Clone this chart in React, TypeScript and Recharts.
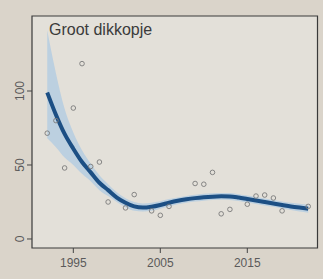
import React from "react";
import {
  ComposedChart,
  Area,
  Line,
  Scatter,
  XAxis,
  YAxis,
  ReferenceArea,
} from "recharts";

const years = [
  1992, 1993, 1994, 1995, 1996, 1997, 1998, 1999, 2000, 2001, 2002, 2003,
  2004, 2005, 2006, 2007, 2008, 2009, 2010, 2011, 2012, 2013, 2014, 2015,
  2016, 2017, 2018, 2019, 2020, 2021, 2022,
];
const fitValues = [
  99, 84, 71, 61, 52, 45, 38, 33, 28, 24.5, 22, 21.2, 21.8, 23, 24.5, 25.8,
  26.8, 27.6, 28.2, 28.6, 28.8, 28.7, 28, 27, 26, 25, 24, 23, 22, 21.2, 20.5,
];
const ciLower = [
  68, 62, 55, 50, 44, 39, 33, 29, 25, 21.5, 19, 18.5, 19, 20.5, 22, 23.5,
  24.5, 25.3, 25.9, 26.3, 26.5, 26.4, 25.7, 24.7, 23.7, 22.7, 21.7, 20.6,
  19.5, 18.6, 17.8,
];
const ciUpper = [
  141, 112, 88, 72, 60, 51, 43, 37, 31.5, 27.5, 25, 24, 24.5, 25.5, 27, 28.1,
  29.1, 29.9, 30.5, 30.9, 31.1, 31, 30.3, 29.3, 28.3, 27.3, 26.3, 25.4, 24.5,
  23.8, 23.2,
];

const obsYears = [
  1992, 1993, 1994, 1995, 1996, 1997, 1998, 1999, 2001, 2002, 2004, 2005,
  2006, 2009, 2010, 2011, 2012, 2013, 2015, 2016, 2017, 2018, 2019, 2022,
];
const obsValues = [
  71.5, 80, 48, 88.5, 118.5, 49, 52, 25, 21, 30, 19, 16, 22, 37.5, 37, 45, 17,
  20, 23.5, 29, 29.7, 27.7, 19, 22,
];

const xTicks = [1995, 2005, 2015];
const yTicks = [0, 50, 100];
const title = "Groot dikkopje";

const X_DOMAIN: [number, number] = [1990.25, 2023.07];
const Y_DOMAIN: [number, number] = [-6.1, 150.7];

const fitData = years.map((year, i) => ({
  year,
  fit: fitValues[i],
  band: [ciLower[i], ciUpper[i]],
}));
const obsData = obsYears.map((year, i) => ({ year, obs: obsValues[i] }));

const FONT = "'Liberation Sans', Arial, sans-serif";

const YTick = (props: any) => {
  const { y, payload } = props;
  const bx = 24;
  return (
    <text
      x={bx}
      y={y}
      transform={`rotate(-90, ${bx}, ${y})`}
      textAnchor="middle"
      fontSize={12}
      fontFamily={FONT}
      fill="#5a5a5a"
    >
      {payload.value}
    </text>
  );
};

const XTick = (props: any) => {
  const { x, payload } = props;
  return (
    <text
      x={x}
      y={267}
      textAnchor="middle"
      fontSize={12}
      fontFamily={FONT}
      fill="#5a5a5a"
    >
      {payload.value}
    </text>
  );
};

const Dot = (props: any) => {
  const { cx, cy } = props;
  if (cx == null || cy == null) return null;
  return (
    <circle cx={cx} cy={cy} r={2.3} fill="none" stroke="#7a7a7a" strokeWidth={0.9} />
  );
};

export default function App() {
  return (
    <div
      style={{
        position: "absolute",
        left: 0,
        top: 0,
        width: 323,
        height: 279,
        background: "#dad4ca",
      }}
    >
      <ComposedChart
        width={323}
        height={279}
        data={fitData}
        margin={{ top: 16, right: 5.5, bottom: 0, left: 0 }}
      >
        <XAxis
          dataKey="year"
          type="number"
          domain={X_DOMAIN}
          allowDataOverflow
          ticks={xTicks}
          axisLine={false}
          tickSize={5}
          tickLine={{ stroke: "#444", strokeWidth: 1 }}
          tick={<XTick />}
          height={31}
        />
        <YAxis
          type="number"
          domain={Y_DOMAIN}
          allowDataOverflow
          ticks={yTicks}
          axisLine={false}
          tickSize={5}
          tickLine={{ stroke: "#444", strokeWidth: 1 }}
          tick={<YTick />}
          width={32}
        />
        <ReferenceArea
          x1={X_DOMAIN[0]}
          x2={X_DOMAIN[1]}
          y1={Y_DOMAIN[0]}
          y2={Y_DOMAIN[1]}
          fill="#e3e0d9"
          fillOpacity={1}
          stroke="none"
          ifOverflow="visible"
        />
        <Area
          dataKey="band"
          type="monotone"
          stroke="none"
          fill="#b5cde0"
          fillOpacity={0.85}
          isAnimationActive={false}
        />
        <Line
          dataKey="fit"
          type="monotone"
          stroke="#1c4f84"
          strokeWidth={4}
          dot={false}
          isAnimationActive={false}
        />
        <Scatter
          data={obsData}
          dataKey="obs"
          shape={<Dot />}
          isAnimationActive={false}
        />
        <ReferenceArea
          x1={X_DOMAIN[0]}
          x2={X_DOMAIN[1]}
          y1={Y_DOMAIN[0]}
          y2={Y_DOMAIN[1]}
          fill="none"
          stroke="#3a3a3a"
          strokeWidth={1.2}
          ifOverflow="visible"
        />
      </ComposedChart>
      <div
        style={{
          position: "absolute",
          left: 49,
          top: 21.5,
          fontFamily: FONT,
          fontSize: 16,
          lineHeight: "16px",
          color: "#3b3b3b",
          whiteSpace: "nowrap",
        }}
      >
        {title}
      </div>
    </div>
  );
}
